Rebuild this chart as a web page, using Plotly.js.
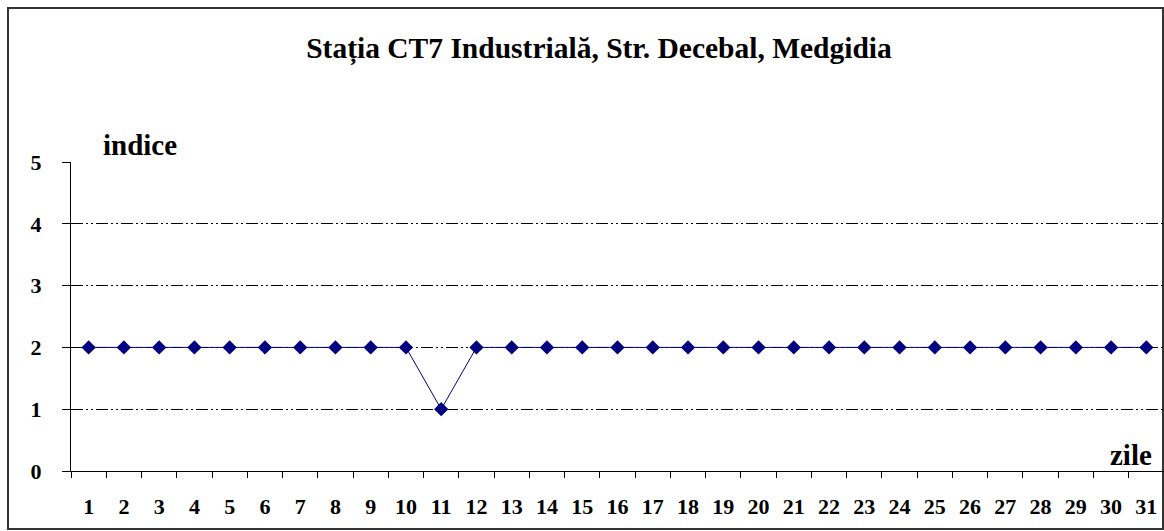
<!DOCTYPE html>
<html>
<head>
<meta charset="utf-8">
<script src="https://cdn.plot.ly/plotly-3.0.1.min.js"></script>
<style>
html,body{margin:0;padding:0;background:#fff;}
#chart{width:1164px;height:531px;}
</style>
</head>
<body>
<div id="chart"></div>
<script>
const days = ["1","2","3","4","5","6","7","8","9","10","11","12","13","14","15","16","17","18","19","20","21","22","23","24","25","26","27","28","29","30","31"];
const indice = [2,2,2,2,2,2,2,2,2,2,1,2,2,2,2,2,2,2,2,2,2,2,2,2,2,2,2,2,2,2,2];
const yTicks = [0,1,2,3,4,5];

const serif = "Liberation Serif";

Plotly.newPlot('chart', [{
  x: days,
  y: indice,
  type: 'scatter',
  mode: 'lines+markers',
  line: {color: '#000080', width: 1},
  marker: {symbol: 'diamond', size: 11, color: '#000080'},
  showlegend: false
}], {
  width: 1164, height: 531,
  margin: {l: 71, r: 0, t: 162, b: 60},
  paper_bgcolor: '#fff', plot_bgcolor: '#fff',
  font: {family: serif},
  title: {text: '<b>Stația CT7 Industrială, Str. Decebal, Medgidia</b>', font: {family: serif, size: 29.5, color: '#000'}, x: 0.5146, xanchor: 'center', y: 0.91, yanchor: 'middle'},
  xaxis: {
    type: 'category',
    tickson: 'boundaries',
    ticks: 'outside', ticklen: 6, tickcolor: '#000', tickwidth: 1,
    showline: true, linecolor: '#000', linewidth: 1,
    showgrid: false, zeroline: false,
    tickfont: {family: serif, size: 22, color: '#000', weight: 'bold'},
    ticklabelstandoff: 16,
    range: [-0.5, 30.5],
    fixedrange: true
  },
  yaxis: {
    range: [0, 5],
    tickvals: yTicks,
    ticks: 'outside', ticklen: 8, tickcolor: '#000', tickwidth: 1,
    showline: true, linecolor: '#000', linewidth: 1,
    showgrid: true, gridcolor: '#000', gridwidth: 1, griddash: '12px,3px,2px,3px,2px,3px',
    zeroline: false,
    tickfont: {family: serif, size: 22, color: '#000', weight: 'bold'},
    ticklabelstandoff: 16,
    fixedrange: true
  },
  annotations: [
    {text: '<b>indice</b>', xref: 'paper', yref: 'paper', x: (101-71)/1093, y: (471-145)/309, xanchor: 'left', yanchor: 'middle', showarrow: false, font: {family: serif, size: 29, color: '#000'}},
    {text: '<b>zile</b>', xref: 'paper', yref: 'paper', x: (1154-71)/1093, y: (471-455)/309, xanchor: 'right', yanchor: 'middle', showarrow: false, font: {family: serif, size: 29, color: '#000'}}
  ],
  shapes: [
    {type: 'rect', xref: 'paper', yref: 'paper', x0: (8-71)/1093, x1: (1163-71)/1093, y0: (471-529)/309, y1: (471-8)/309, line: {color: '#333', width: 2}, fillcolor: 'rgba(0,0,0,0)', layer: 'below'}
  ]
}, {displayModeBar: false, staticPlot: true});
</script>
</body>
</html>
